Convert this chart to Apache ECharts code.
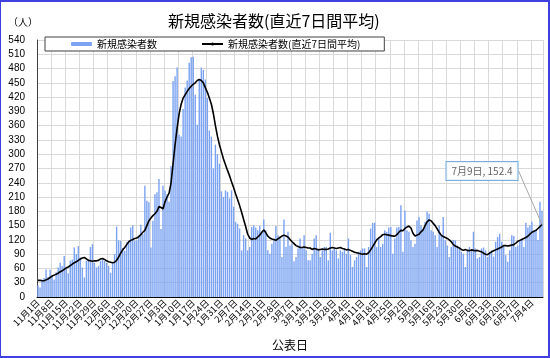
<!DOCTYPE html>
<html><head><meta charset="utf-8">
<script src="https://cdn.jsdelivr.net/npm/echarts@6/dist/echarts.min.js"></script>
<style>
html,body{margin:0;padding:0;background:#fff;}
#c{position:absolute;left:0;top:0;width:550px;height:358px;}
#frame{position:absolute;left:0;top:0;width:550px;height:358px;box-sizing:border-box;border:2px solid #4040e0;border-left-width:1px;pointer-events:none;}
</style></head><body>
<div id="c"></div><div id="frame"></div>
<script>
// Daily new cases, 2020-11-01 .. 2021-07-09
const daily = [
 24, 20, 36, 40, 58, 42, 57,
 45, 37, 52, 62, 72, 65, 86,
 60, 50, 76, 79, 104, 90, 107,
 83, 62, 41, 76, 76, 105, 111,
 72, 62, 65, 76, 79, 76, 72,
 65, 51, 72, 90, 148, 119, 118,
 103, 97, 115, 119, 146, 150, 118,
 119, 129, 152, 132, 234, 202, 199,
 104, 160, 216, 220, 248, 143, 234,
 224, 216, 200, 275, 454, 464, 482,
 341, 337, 395, 440, 455, 492, 504,
 505, 425, 362, 457, 482, 477, 457,
 418, 350, 337, 270, 320, 300, 280,
 222, 210, 224, 221, 207, 224, 190,
 158, 154, 144, 98, 130, 123, 98,
 105, 147, 151, 146, 140, 149, 137,
 163, 140, 98, 91, 112, 119, 149,
 130, 123, 84, 163, 105, 137, 108,
 112, 75, 84, 102, 123, 105, 130,
 98, 77, 77, 91, 123, 130, 102,
 84, 98, 105, 105, 77, 135, 98,
 102, 98, 81, 98, 95, 102, 91,
 123, 88, 63, 77, 84, 95, 98,
 102, 102, 63, 105, 144, 156, 156,
 105, 123, 105, 112, 140, 137, 146,
 147, 91, 123, 146, 147, 193, 95,
 182, 140, 137, 119, 105, 112, 161,
 168, 151, 140, 158, 179, 175, 140,
 137, 130, 105, 151, 130, 168, 119,
 108, 84, 105, 120, 119, 108, 102,
 95, 91, 63, 98, 105, 98, 137,
 102, 81, 84, 102, 104, 98, 84,
 95, 98, 85, 116, 126, 133, 116,
 105, 88, 74, 98, 130, 128, 105,
 108, 119, 123, 105, 156, 146, 151,
 158, 137, 142, 120, 200, 181
];
// 7-day average
const avg7 = [
 35, 35, 34, 34, 36, 38, 41,
 44, 46, 48, 50, 53, 55, 58,
 61, 63, 66, 69, 72, 74, 77,
 80, 82, 83, 80, 77, 76, 75,
 76, 76, 77, 80, 81, 79, 76,
 74, 73, 72, 73, 77, 84, 92,
 99, 104, 110, 116, 119, 121, 123,
 124, 127, 131, 136, 140, 150, 160,
 166, 171, 175, 180, 190, 188, 185,
 200, 210, 218, 240, 280, 320, 355,
 385, 405, 418, 425, 432, 438, 443,
 447, 450, 455, 457, 455, 450, 440,
 430, 418, 405, 385, 360, 338, 320,
 305, 290, 278, 266, 255, 242, 230,
 217, 205, 192, 178, 163, 148, 132,
 124, 121, 123, 122, 126, 130, 136,
 141, 135, 128, 124, 122, 121, 119,
 122, 125, 128, 130, 128, 126, 121,
 116, 112, 108, 106, 104, 104, 105,
 104, 103, 103, 100, 102, 101, 99,
 100, 101, 100, 100, 101, 103, 104,
 103, 102, 103, 104, 102, 101, 99,
 100, 98, 96, 94, 93, 92, 91,
 90, 91, 90, 93, 99, 106, 113,
 120, 124, 127, 131, 132, 131, 130,
 129, 128, 128, 131, 136, 140, 139,
 144, 147, 149, 145, 134, 128, 130,
 132, 137, 141, 150, 158, 162, 160,
 155, 150, 143, 136, 130, 127, 125,
 123, 120, 116, 110, 107, 105, 103,
 100, 98, 100, 98, 97, 99, 98,
 97, 98, 96, 95, 92, 90, 89,
 92, 95, 97, 99, 101, 103, 105,
 108, 108, 107, 108, 109, 110, 113,
 117, 119, 121, 123, 125, 128, 132,
 136, 138, 140, 144, 148, 152.4
];
const seriesNames = ['新規感染者数', '新規感染者数(直近7日間平均)'];
const titleText = '新規感染者数(直近7日間平均)';
const unitText = '（人）';
const xName = '公表日';
const yTicks = {min: 0, max: 540, interval: 30};

const categories = [];
for (let i = 0; i < daily.length; i++) {
  const d = new Date(2020, 10, 1 + i);
  categories.push((d.getMonth() + 1) + '月' + d.getDate() + '日');
}
const last = avg7.length - 1;

const chart = echarts.init(document.getElementById('c'), null, {renderer: 'canvas'});
const FF = "'Noto Sans CJK JP', 'Noto Sans', sans-serif";
chart.setOption({
  animation: false,
  textStyle: {fontFamily: FF},
  title: [
    {text: titleText, left: 163, top: 8, textStyle: {fontSize: 16, fontWeight: 'normal', color: '#000', fontFamily: FF}},
    {text: unitText, left: 3, top: 12, textStyle: {fontSize: 10, fontWeight: 'normal', color: '#000', fontFamily: FF}}
  ],
  legend: {
    data: seriesNames, left: 45, top: 37, orient: 'horizontal',
    padding: [2, 24, 2, 26], itemGap: 44, itemWidth: 21, itemHeight: 4,
    borderColor: '#404040', borderWidth: 1, backgroundColor: '#fff',
    textStyle: {fontSize: 10, color: '#000', fontFamily: FF}, z: 10
  },
  grid: {left: 37, right: 7, top: 40, bottom: 61, containLabel: false, outerBoundsMode: 'none'},
  xAxis: {
    type: 'category', data: categories, boundaryGap: true,
    axisLine: {lineStyle: {color: '#000', width: 1}},
    axisTick: {show: false},
    axisLabel: {interval: 6, rotate: 45, fontSize: 9, margin: 4, color: '#000', fontFamily: FF},
    splitLine: {show: true, interval: 6, lineStyle: {color: '#d9d9d9', width: 1}},
    name: xName, nameLocation: 'middle', nameGap: 42,
    nameTextStyle: {fontSize: 12, color: '#000', fontFamily: FF}
  },
  yAxis: {
    type: 'value', min: yTicks.min, max: yTicks.max, interval: yTicks.interval,
    axisLine: {show: true, lineStyle: {color: '#404040', width: 1}},
    axisTick: {show: false},
    axisLabel: {fontSize: 10, color: '#000', margin: 12, fontFamily: "'Liberation Sans', Arial, sans-serif"},
    splitLine: {show: true, lineStyle: {color: '#d9d9d9', width: 1}}
  },
  series: [
    {name: seriesNames[0], type: 'bar', data: daily, barCategoryGap: '30%',
     itemStyle: {color: '#7ba3f2'}, emphasis: {disabled: true}, silent: true},
    {name: seriesNames[1], type: 'line', data: avg7, symbol: 'none', smooth: false,
     lineStyle: {color: '#000', width: 1.6}, itemStyle: {color: '#000'}, z: 3, silent: true},
    {name: 'label', type: 'scatter', data: [[categories[last], avg7[last]]], symbolSize: 0.1, z: 5,
     label: {show: true, formatter: categories[last] + ', ' + avg7[last], fontSize: 10, color: '#404040',
       backgroundColor: '#fff', borderColor: '#5b9bd5', borderWidth: 1, padding: [4, 5], fontFamily: FF},
     labelLine: {show: true, lineStyle: {color: '#a6a6a6', width: 1}},
     labelLayout: {x: 482, y: 171, align: 'center', verticalAlign: 'middle'},
     silent: true}
  ]
});
</script>
</body></html>
